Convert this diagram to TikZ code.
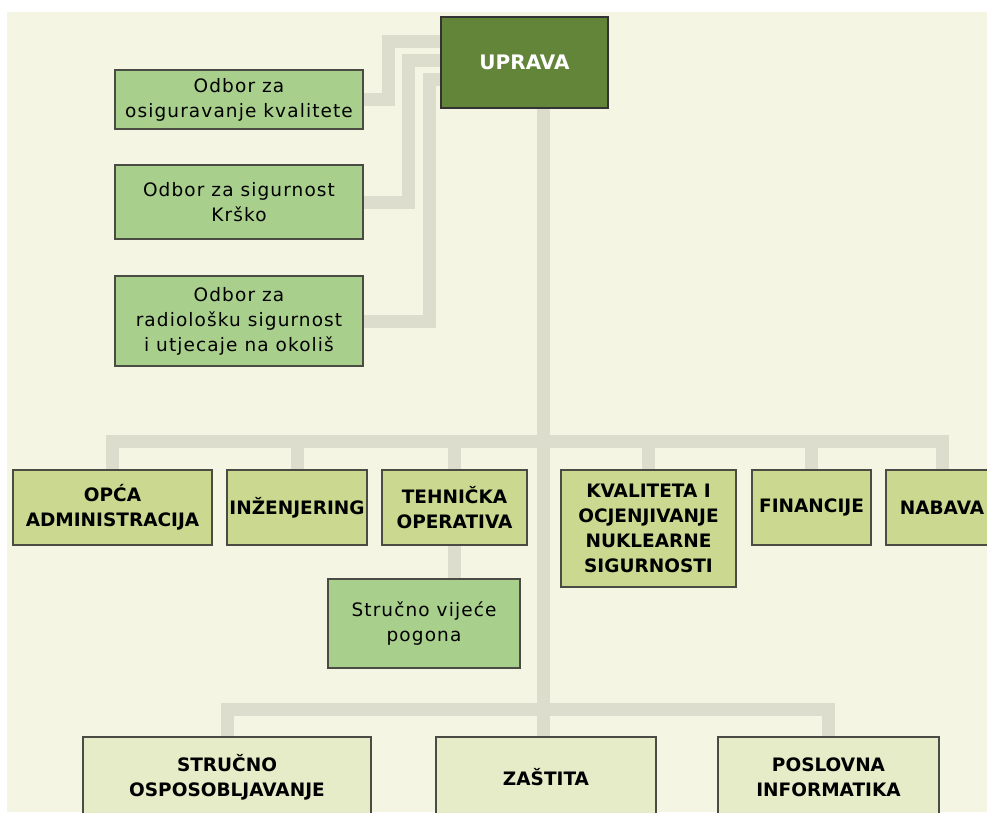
\documentclass[tikz,border=0pt]{standalone}
\usepackage{fontspec}
\setmainfont{DejaVu Sans}
\newfontfamily\odborfont[LetterSpace=6]{DejaVu Sans}
\usetikzlibrary{backgrounds}

\definecolor{pozadina}{HTML}{F4F6E3}
\definecolor{veza}{HTML}{DCDDCC}
\definecolor{rub}{HTML}{4A4C44}
\definecolor{upravazel}{HTML}{62853A}
\definecolor{odborzel}{HTML}{A9CF8D}
\definecolor{sluzbazel}{HTML}{CBD890}
\definecolor{odjelzel}{HTML}{E6ECC7}

\begin{document}
\begin{tikzpicture}[x=1pt, y=-1pt,
        box/.style={draw=rub, line width=1.5pt, inner sep=0pt, align=center},
        odbor/.style={box, fill=odborzel, font=\odborfont\fontsize{18.5}{25}\selectfont},
        sluzba/.style={box, fill=sluzbazel, font=\bfseries\fontsize{18.5}{25}\selectfont},
        odjel/.style={box, fill=odjelzel, font=\bfseries\fontsize{18.5}{25}\selectfont},
        link/.style={draw=veza, line width=13pt}]
            \useasboundingbox (0, 0) rectangle (987, 812);

            \node[box, draw=black!80, fill=upravazel, text=white, font=\bfseries\fontsize{20}{24}\selectfont,
                minimum width=167, minimum height=91] (uprava) at (524.5, 62.5) {UPRAVA};

            \node[odbor, minimum width=248, minimum height=59] (odb1) at (239, 99.5) {Odbor za\\osiguravanje kvalitete};
            \node[odbor, minimum width=248, minimum height=74] (odb2) at (239, 202) {Odbor za sigurnost\\Krško};
            \node[odbor, minimum width=248, minimum height=90] (odb3) at (239, 321) {Odbor za\\radiološku sigurnost\\i utjecaje na okoliš};

            \node[sluzba, minimum width=199, minimum height=75] (opca) at (112.5, 507.5) {OPĆA\\ADMINISTRACIJA};
            \node[sluzba, minimum width=140, minimum height=75] (inz) at (297, 507.5) {INŽENJERING};
            \node[sluzba, minimum width=145, minimum height=75] (teh) at (454.5, 507.5) {TEHNIČKA\\OPERATIVA};
            \node[sluzba, minimum width=175, minimum height=117] (kval) at (648.5, 528.5) {KVALITETA I\\OCJENJIVANJE\\NUKLEARNE\\SIGURNOSTI};
            \node[sluzba, minimum width=119, minimum height=75] (fin) at (811.5, 507.5) {FINANCIJE};
            \node[sluzba, minimum width=112, minimum height=75] (nab) at (942, 507.5) {NABAVA};

            \node[odbor, minimum width=192, minimum height=89] (vijece) at (424, 623.5) {Stručno vijeće\\pogona};

            \node[odjel, minimum width=288, minimum height=80] (strucno) at (227, 777) {STRUČNO\\OSPOSOBLJAVANJE};
            \node[odjel, minimum width=220, minimum height=80] (zastita) at (546, 777) {ZAŠTITA};
            \node[odjel, minimum width=221, minimum height=80] (poslovna) at (828.5, 777) {POSLOVNA\\INFORMATIKA};

            \coordinate (sabirnica) at (543, 441);
            \coordinate (donja) at (543, 709);

            \begin{scope}[on background layer]
                \fill[white] (0, 0) rectangle (987, 812);
                \fill[pozadina] (7, 12) rectangle (987, 812);

                \draw[link] (odb1.east) -- ++(25, 0) |- ([yshift=21.5pt]uprava.west);
                \draw[link] (odb2.east) -- ++(45, 0) |- ([yshift=2.5pt]uprava.west);
                \draw[link] (odb3.east) -- ++(66, 0) |- ([yshift=-16.5pt]uprava.west);

                \draw[link] ([xshift=18.5pt]uprava.south) -- (donja) -- (donja |- zastita.north);

                \draw[link] (sabirnica) -| (opca.north);
                \draw[link] (sabirnica) -| (inz.north);
                \draw[link] (sabirnica) -| (teh.north);
                \draw[link] (sabirnica) -| (kval.north);
                \draw[link] (sabirnica) -| (fin.north);
                \draw[link] (sabirnica) -| (nab.north);

                \draw[link] (teh.south) -- (teh.south |- vijece.north);

                \draw[link] (donja) -| (strucno.north);
                \draw[link] (donja) -| (poslovna.north);
            \end{scope}
        \end{tikzpicture}
\end{document}
